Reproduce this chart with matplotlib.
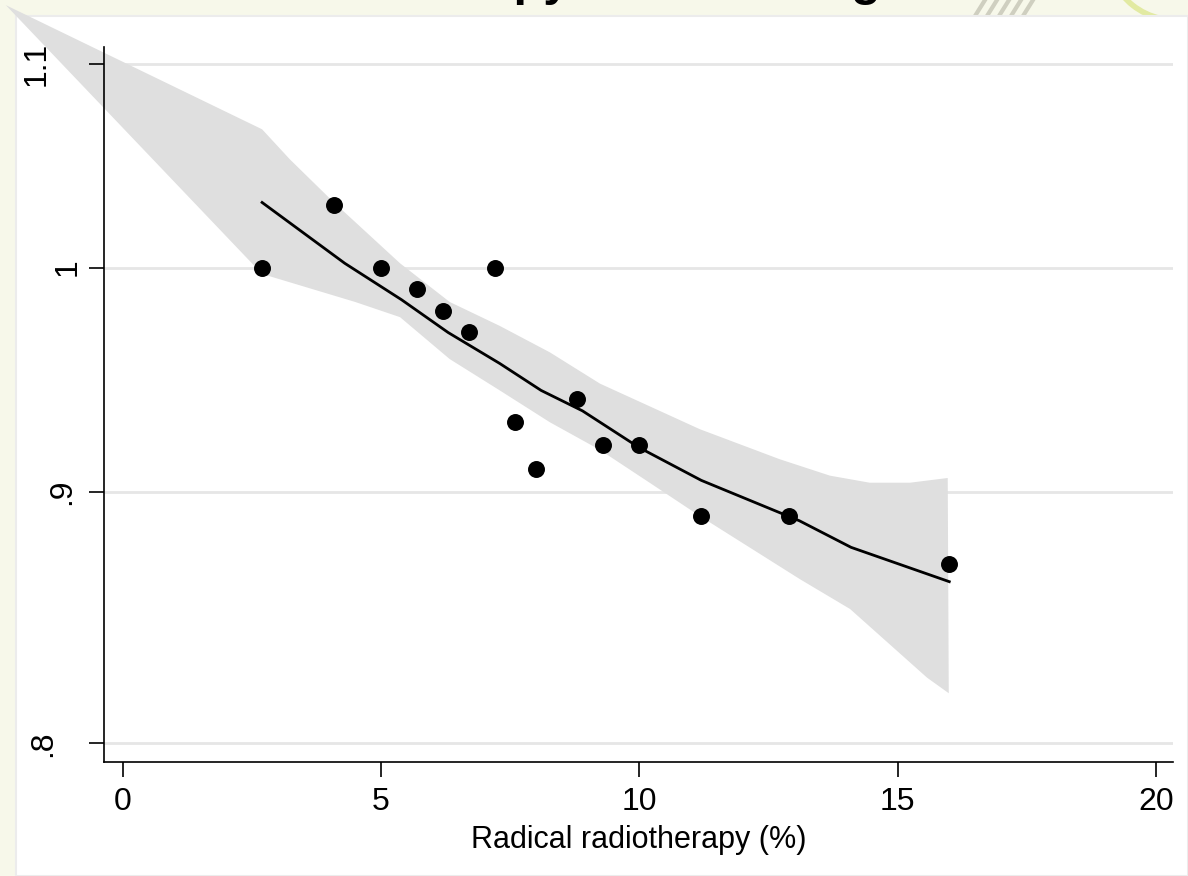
import numpy as np
import matplotlib.pyplot as plt
from matplotlib.patches import Rectangle, Arc
from matplotlib.lines import Line2D
import matplotlib.transforms as mtransforms

# hospital level data
radical_rt = [2.7, 4.1, 5.0, 5.7, 6.2, 6.7, 7.2, 7.6, 8.0, 8.8, 9.3, 10.0, 11.2, 12.9, 16.0]
ratio = [1.00, 1.03, 1.00, 0.99, 0.98, 0.97, 1.00, 0.93, 0.91, 0.94, 0.92, 0.92, 0.89, 0.89, 0.87]

# fitted curve
fit_x = [2.7, 4.3, 5.4, 6.3, 7.3, 8.1, 8.9, 10.0, 11.2, 13.1, 14.1, 16.0]
fit_y = [1.031, 1.002, 0.985, 0.970, 0.956, 0.944, 0.935, 0.919, 0.905, 0.888, 0.877, 0.863]

# confidence band edges
ci_upper_x = [-2.26, 2.70, 3.24, 4.09, 5.37, 6.33, 7.30, 8.27, 9.24, 10.2, 11.17, 12.72, 13.69, 14.46, 15.24, 15.97]
ci_upper_y = [1.131, 1.067, 1.052, 1.031, 1.002, 0.984, 0.973, 0.961, 0.947, 0.937, 0.927, 0.914, 0.907, 0.904, 0.904, 0.906]
ci_lower_x = [-2.26, 2.70, 4.50, 5.37, 6.33, 7.30, 8.27, 9.24, 10.2, 11.17, 13.11, 14.08, 15.57, 15.99]
ci_lower_y = [1.131, 0.997, 0.984, 0.977, 0.958, 0.944, 0.930, 0.918, 0.904, 0.890, 0.864, 0.852, 0.825, 0.819]

x_ticks = [0, 5, 10, 15, 20]
y_ticks = [0.8, 0.9, 1.0, 1.1]
y_ticklabels = ['.8', '.9', '1', '1.1']
y_label_px = [43, 62, 68, 37]   # Stata places the rotated labels unevenly

W, H = 1188, 876
plt.rcParams['font.family'] = ['Liberation Sans', 'DejaVu Sans']

fig = plt.figure(figsize=(W / 100, H / 100), dpi=100)
fig.patch.set_facecolor('#f7f8ea')

def fx(px):
    return px / W

def fy(py):
    return 1 - py / H

# slide decoration behind the graph
fig.patches.append(Arc((fx(1175), fy(-48)), 136 / W, 136 / H, theta1=180, theta2=280,
                       transform=fig.transFigure, color='#e2eaa2', lw=4, zorder=-3))
for i in range(5):
    x0 = 975 + i * 12
    fig.lines.append(Line2D([fx(x0), fx(x0 + 10)], [fy(16), fy(0)], transform=fig.transFigure,
                            color='#cfcfc0', lw=3, zorder=-3))
# white graph region
fig.patches.append(Rectangle((fx(16), 0), 1 - fx(16), fy(16), transform=fig.transFigure,
                             facecolor='white', edgecolor='#ececec', lw=1.5, zorder=-1))

# slide title, mostly cut off at the top
fig.text(fx(584), fy(-5), 'Radiotherapy use and stage', ha='center', va='baseline',
         fontsize=35, fontweight='bold', color='black')

ax = fig.add_axes([fx(104), fy(762), fx(1173) - fx(104), fy(47) - fy(762)])
ax.patch.set_alpha(0)

ax.set_yscale('log')
ax.set_xlim(-0.36, 20.33)
ax.set_ylim(0.793, 1.109)

band_x = ci_upper_x + ci_lower_x[::-1]
band_y = ci_upper_y + ci_lower_y[::-1]
ax.fill(band_x, band_y, color='#dfdfdf', lw=0, zorder=1, clip_on=False)
ax.plot(fit_x, fit_y, color='black', lw=2, zorder=3)
ax.scatter(radical_rt, ratio, s=125, color='black', zorder=4, clip_on=False)

for y in y_ticks:
    ax.axhline(y, color='#e6e6e6', lw=2, zorder=0)

ax.set_xticks(x_ticks)
ax.set_xticklabels([str(t) for t in x_ticks], fontsize=23)
ax.set_yticks(y_ticks)
ax.set_yticklabels([])
ax.yaxis.set_minor_locator(plt.NullLocator())
ax.tick_params(axis='both', which='both', direction='out', length=11, width=1.2, color='black')
ax.tick_params(axis='x', pad=7)

trans = mtransforms.blended_transform_factory(fig.transFigure, ax.transData)
for y, lab, px in zip(y_ticks, y_ticklabels, y_label_px):
    fig.text(fx(px), y, lab, transform=trans, rotation=90, ha='center', va='center',
             fontsize=23, rotation_mode='anchor')

ax.set_xlabel('Radical radiotherapy (%)', fontsize=22, labelpad=6)

for side in ['top', 'right']:
    ax.spines[side].set_visible(False)
for side in ['left', 'bottom']:
    ax.spines[side].set_linewidth(1.2)
    ax.spines[side].set_color('black')

fig.savefig('out.png', dpi=100, facecolor=fig.get_facecolor())
